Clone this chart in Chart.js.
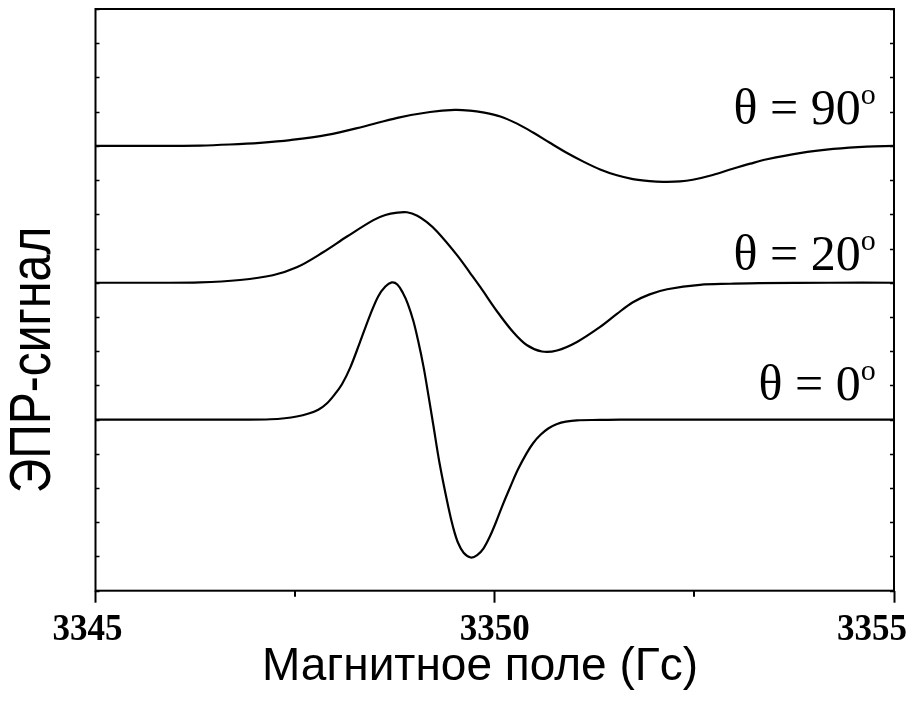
<!DOCTYPE html>
<html>
<head>
<meta charset="utf-8">
<script src="https://cdn.jsdelivr.net/npm/chart.js@4.4.1/dist/chart.umd.min.js"></script>
<style>
  html, body { margin: 0; padding: 0; background: #fff; }
</style>
</head>
<body>
<canvas id="eprChart" width="920" height="707"></canvas>
<script>
// Field sweep (Gs) and signal for each orientation, curves stacked on baselines 5 / 9 / 13
const field0 = [3345.0, 3346.0, 3346.93, 3347.19, 3347.37, 3347.52, 3347.66, 3347.79, 3347.90, 3348.00,
  3348.09, 3348.19, 3348.31, 3348.44, 3348.54, 3348.63, 3348.71, 3348.78, 3348.85, 3348.91,
  3348.98, 3349.04, 3349.11, 3349.17, 3349.23, 3349.31, 3349.42, 3349.48, 3349.54, 3349.61,
  3349.70, 3349.78, 3349.86, 3349.94, 3350.02, 3350.10, 3350.19, 3350.29, 3350.40, 3350.48,
  3350.57, 3350.67, 3350.78, 3350.89, 3351.03, 3351.32, 3351.57, 3353.0, 3355.0];
const signal0 = [5.0, 5.0, 5.0, 5.01, 5.04, 5.09, 5.17, 5.29, 5.48, 5.75,
  6.05, 6.52, 7.25, 8.06, 8.60, 8.89, 9.01, 8.95, 8.70, 8.39,
  7.89, 7.31, 6.52, 5.70, 4.85, 3.71, 2.43, 1.84, 1.40, 1.11,
  0.97, 1.04, 1.24, 1.59, 2.03, 2.51, 3.01, 3.54, 4.02, 4.31,
  4.55, 4.74, 4.87, 4.94, 4.98, 4.99, 5.0, 5.0, 5.0];

const field20 = [3345.0, 3345.68, 3346.31, 3346.81, 3347.22, 3347.52, 3347.85, 3348.15, 3348.48, 3348.63,
  3348.78, 3348.90, 3349.03, 3349.15, 3349.28, 3349.53, 3349.69, 3349.82, 3350.03, 3350.23,
  3350.40, 3350.59, 3350.78, 3351.03, 3351.32, 3351.53, 3351.73, 3351.94, 3352.16, 3352.57,
  3352.95, 3353.32, 3354.2, 3355.0];
const signal20 = [9.0, 9.0, 9.01, 9.08, 9.22, 9.45, 9.89, 10.35, 10.83, 10.98,
  11.05, 11.06, 10.96, 10.77, 10.49, 9.80, 9.29, 8.87, 8.16, 7.56,
  7.18, 6.99, 7.02, 7.27, 7.71, 8.09, 8.43, 8.66, 8.81, 8.94,
  8.97, 8.99, 9.0, 9.0];

const field90 = [3345.0, 3345.7, 3346.31, 3346.68, 3347.06, 3347.44, 3347.90, 3348.35, 3348.78, 3349.19,
  3349.50, 3349.69, 3349.85, 3350.07, 3350.28, 3350.48, 3350.69, 3350.90, 3351.11, 3351.32,
  3351.53, 3351.73, 3351.94, 3352.11, 3352.32, 3352.48, 3352.73, 3352.98, 3353.20, 3353.41,
  3353.82, 3354.24, 3354.66, 3355.0];
const signal90 = [13.0, 13.0, 13.01, 13.04, 13.09, 13.17, 13.32, 13.56, 13.82, 13.99,
  14.05, 14.03, 13.98, 13.86, 13.65, 13.39, 13.09, 12.80, 12.54, 12.31,
  12.14, 12.03, 11.97, 11.95, 11.96, 12.01, 12.15, 12.33, 12.48, 12.61,
  12.79, 12.91, 12.98, 13.0];

const xTickValues = [3345, 3347.5, 3350, 3352.5, 3355];
const xTickLabels = ['3345', '', '3350', '', '3355'];
const angleLabels = ['0', '20', '90'];

function toPoints(xs, ys) {
  return xs.map((x, i) => ({ x: x, y: ys[i] }));
}

// frame, inner ticks, tick labels, titles and angle labels
const decorPlugin = {
  id: 'decor',
  afterDraw(chart) {
    const { ctx, chartArea: a, scales: { x, y } } = chart;
    ctx.save();
    ctx.strokeStyle = '#000';
    ctx.fillStyle = '#000';

    ctx.lineWidth = 2;
    ctx.strokeRect(a.left, a.top, a.right - a.left, a.bottom - a.top);

    ctx.lineWidth = 1.5;
    ctx.beginPath();
    y.ticks.forEach(t => {
      const py = Math.round(y.getPixelForValue(t.value)) + 0.5;
      ctx.moveTo(a.left, py); ctx.lineTo(a.left + 4, py);
      ctx.moveTo(a.right, py); ctx.lineTo(a.right - 4, py);
    });
    ctx.stroke();

    // short ticks between the labelled ones
    ctx.lineWidth = 2;
    ctx.beginPath();
    xTickValues.forEach((v, i) => {
      if (xTickLabels[i]) return;
      const px = Math.round(x.getPixelForValue(v));
      ctx.moveTo(px, a.bottom); ctx.lineTo(px, a.bottom + 6);
    });
    ctx.stroke();

    const shift = { '3345': -8, '3350': 0, '3355': -22 };
    ctx.font = 'bold 35px "Liberation Serif"';
    ctx.textAlign = 'center';
    ctx.textBaseline = 'alphabetic';
    xTickValues.forEach((v, i) => {
      const s = xTickLabels[i];
      if (!s) return;
      ctx.save();
      ctx.translate(x.getPixelForValue(v) + shift[s], a.bottom + 49);
      ctx.scale(1, 1.08);
      ctx.fillText(s, 0, 0);
      ctx.restore();
    });

    ctx.font = '46px "Liberation Sans"';
    ctx.fillText('Магнитное поле (Гс)', 480, 680);

    // axis title on the left is a little wider across than its font
    ctx.save();
    ctx.translate(50, 360);
    ctx.rotate(-Math.PI / 2);
    ctx.scale(1, 1.2);
    ctx.font = '48px "Liberation Sans"';
    ctx.fillText('ЭПР-сигнал', 0, 0);
    ctx.restore();

    // θ labels, right edge near the end of the sweep
    const labelY = [5.58, 9.38, 13.65];
    const rightPx = x.getPixelForValue(3354.77);
    angleLabels.forEach((deg, i) => {
      const base = y.getPixelForValue(labelY[i]);
      const main = 'θ = ' + deg;
      ctx.font = '50px "Liberation Serif"';
      const wMain = ctx.measureText(main).width;
      ctx.font = '30px "Liberation Serif"';
      const wO = ctx.measureText('o').width;
      const left = rightPx - wMain - wO;
      ctx.textAlign = 'left';
      ctx.font = '50px "Liberation Serif"';
      ctx.fillText(main, left, base);
      ctx.font = '30px "Liberation Serif"';
      ctx.fillText('o', left + wMain, base - 20);
    });
    ctx.restore();
  }
};

const lineStyle = {
  borderColor: '#000',
  borderWidth: 2.2,
  pointRadius: 0,
  fill: false,
  tension: 0.35
};

new Chart(document.getElementById('eprChart').getContext('2d'), {
  type: 'line',
  data: {
    datasets: [
      Object.assign({ label: 'θ = 0', data: toPoints(field0, signal0) }, lineStyle),
      Object.assign({ label: 'θ = 20', data: toPoints(field20, signal20) }, lineStyle),
      Object.assign({ label: 'θ = 90', data: toPoints(field90, signal90) }, lineStyle)
    ]
  },
  options: {
    responsive: false,
    animation: false,
    layout: { padding: { left: 95.5, right: 26, top: 9, bottom: 104.3 } },
    plugins: {
      legend: { display: false },
      tooltip: { enabled: false }
    },
    scales: {
      x: {
        type: 'linear',
        min: 3345,
        max: 3355,
        afterBuildTicks: scale => { scale.ticks = xTickValues.map(v => ({ value: v })); },
        ticks: { display: false },
        border: { display: false },
        grid: {
          drawOnChartArea: false,
          drawTicks: true,
          tickLength: 12,
          tickWidth: 2,
          tickColor: ctx => (ctx.tick && ctx.tick.value % 5 === 0 ? '#000' : 'rgba(0,0,0,0)')
        }
      },
      y: {
        display: false,
        min: 0,
        max: 17,
        ticks: { stepSize: 1 }
      }
    }
  },
  plugins: [decorPlugin]
});
</script>
</body>
</html>
